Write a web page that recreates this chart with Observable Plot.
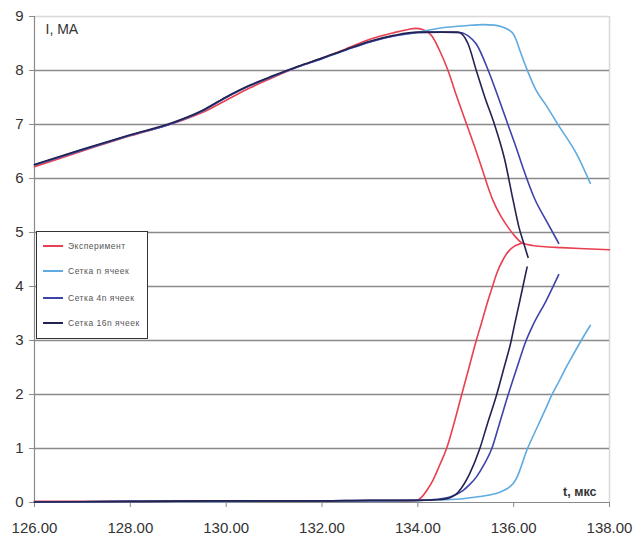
<!DOCTYPE html>
<html><head><meta charset="utf-8">
<script src="https://cdn.jsdelivr.net/npm/d3@7"></script>
<script src="https://cdn.jsdelivr.net/npm/@observablehq/plot@0.6"></script>
<style>
body{margin:0;background:#fff;}
#wrap{position:relative;width:643px;height:535px;font-family:"Liberation Sans",Arial,sans-serif;}
#legend{position:absolute;left:36px;top:231px;width:112px;height:108px;border:1px solid #333;background:#fff;box-sizing:border-box;}
.li{position:absolute;left:6px;height:12px;display:flex;align-items:center;font-size:8.5px;color:#555;letter-spacing:0.5px;white-space:nowrap;}
.li span.sw{display:inline-block;width:20px;height:1.6px;margin-right:5px;}
</style>
</head><body>
<div id="wrap"></div>
<script>
// Series names and colours
const seriesNames = ["Эксперимент", "Сетка n ячеек", "Сетка 4n ячеек", "Сетка 16n ячеек"];
const seriesColors = ["#e8404f", "#5faae0", "#3c44aa", "#22234f"];
const xTicks = [126, 128, 130, 132, 134, 136, 138];
const yTicks = [0, 1, 2, 3, 4, 5, 6, 7, 8, 9];

// Эксперимент — falling (upper) branch
const expUpT = [126, 127, 128, 129, 129.5, 130, 130.5, 131, 131.5, 132, 132.5, 133, 133.5, 133.8, 133.95, 134.1, 134.3, 134.45, 134.63, 134.8, 135.02, 135.2, 135.33, 135.45, 135.57, 135.72, 135.88, 136.0, 136.1, 136.19, 136.4, 136.6, 137.0, 137.5, 138.0];
const expUpI = [6.22, 6.51, 6.79, 7.05, 7.22, 7.45, 7.68, 7.88, 8.07, 8.23, 8.40, 8.58, 8.70, 8.76, 8.78, 8.76, 8.63, 8.38, 8.0, 7.55, 7.0, 6.55, 6.21, 5.88, 5.59, 5.32, 5.10, 4.96, 4.86, 4.80, 4.76, 4.74, 4.72, 4.70, 4.68];
// Эксперимент — rising (lower) branch
const expLoT = [126, 128, 130, 132, 133, 133.6, 133.97, 134.08, 134.2, 134.32, 134.45, 134.6, 134.75, 134.91, 135.05, 135.22, 135.33, 135.45, 135.55, 135.65, 135.78, 135.9, 136.0, 136.1, 136.19];
const expLoI = [0.02, 0.02, 0.03, 0.03, 0.03, 0.03, 0.04, 0.10, 0.24, 0.42, 0.68, 1.0, 1.45, 1.98, 2.44, 3.0, 3.33, 3.70, 3.98, 4.25, 4.50, 4.66, 4.74, 4.78, 4.80];

// Сетка n ячеек
const nUpT = [126, 127, 128, 128.9, 129.5, 130, 130.5, 131, 131.5, 132, 132.5, 133, 133.5, 133.9, 134.18, 134.6, 135.0, 135.36, 135.6, 135.78, 135.9, 135.99, 136.06, 136.13, 136.3, 136.47, 136.68, 136.96, 137.31, 137.6];
const nUpI = [6.25, 6.53, 6.80, 7.03, 7.25, 7.50, 7.72, 7.90, 8.07, 8.22, 8.38, 8.53, 8.64, 8.69, 8.74, 8.80, 8.83, 8.85, 8.84, 8.80, 8.75, 8.68, 8.55, 8.37, 7.97, 7.63, 7.35, 6.95, 6.46, 5.91];
const nLoT = [126, 128, 130, 132, 133, 134, 134.5, 134.94, 135.29, 135.5, 135.71, 135.85, 135.99, 136.06, 136.13, 136.2, 136.28, 136.38, 136.51, 136.65, 136.79, 136.95, 137.10, 137.25, 137.41, 137.6];
const nLoI = [0.01, 0.02, 0.02, 0.03, 0.03, 0.04, 0.05, 0.07, 0.11, 0.14, 0.19, 0.25, 0.35, 0.45, 0.60, 0.78, 0.98, 1.18, 1.43, 1.70, 1.98, 2.25, 2.51, 2.75, 3.0, 3.28];

// Сетка 4n ячеек
const n4UpT = [126, 127, 128, 128.9, 129.5, 130, 130.5, 131, 131.5, 132, 132.5, 133, 133.5, 134, 134.5, 134.91, 135.05, 135.22, 135.47, 135.68, 135.88, 136.05, 136.19, 136.44, 136.68, 136.94];
const n4UpI = [6.25, 6.53, 6.80, 7.03, 7.25, 7.50, 7.72, 7.90, 8.07, 8.22, 8.38, 8.53, 8.64, 8.70, 8.71, 8.70, 8.64, 8.49, 8.0, 7.5, 7.0, 6.58, 6.21, 5.62, 5.22, 4.80];
const n4LoT = [126, 128, 130, 132, 133, 134, 134.4, 134.67, 134.94, 135.08, 135.22, 135.38, 135.54, 135.7, 135.88, 136.07, 136.26, 136.4, 136.68, 136.94];
const n4LoI = [0.01, 0.02, 0.03, 0.03, 0.04, 0.04, 0.06, 0.10, 0.22, 0.33, 0.47, 0.70, 0.99, 1.45, 1.98, 2.5, 3.0, 3.28, 3.74, 4.22];

// Сетка 16n ячеек
const n16UpT = [126, 127, 128, 128.9, 129.5, 130, 130.5, 131, 131.5, 132, 132.5, 133, 133.5, 134, 134.5, 134.84, 135.05, 135.22, 135.4, 135.6, 135.81, 135.99, 136.11, 136.21, 136.3];
const n16UpI = [6.26, 6.54, 6.81, 7.04, 7.26, 7.51, 7.73, 7.91, 8.08, 8.23, 8.39, 8.54, 8.65, 8.71, 8.71, 8.71, 8.49, 8.0, 7.5, 7.0, 6.36, 5.59, 5.10, 4.80, 4.54];
const n16LoT = [126, 128, 130, 132, 133, 134, 134.4, 134.6, 134.84, 135.08, 135.29, 135.45, 135.64, 135.8, 135.95, 136.02, 136.13, 136.28];
const n16LoI = [0.01, 0.02, 0.03, 0.03, 0.04, 0.04, 0.05, 0.07, 0.19, 0.53, 0.99, 1.45, 1.98, 2.5, 3.0, 3.3, 3.74, 4.36];

const branches = [
  [seriesNames[0], "up", expUpT, expUpI], [seriesNames[0], "lo", expLoT, expLoI],
  [seriesNames[1], "up", nUpT, nUpI], [seriesNames[1], "lo", nLoT, nLoI],
  [seriesNames[2], "up", n4UpT, n4UpI], [seriesNames[2], "lo", n4LoT, n4LoI],
  [seriesNames[3], "up", n16UpT, n16UpI], [seriesNames[3], "lo", n16LoT, n16LoI]
];
const data = branches.flatMap(([s, b, ts, is]) => ts.map((t, i) => ({series: s, key: s + b, t, I: is[i]})));

const chart = Plot.plot({
  width: 643, height: 535,
  marginLeft: 34, marginRight: 34, marginTop: 16, marginBottom: 33,
  style: {fontFamily: '"Liberation Sans", Arial, sans-serif', fontSize: "15px", color: "#333", background: "#fff"},
  x: {domain: [126, 138]},
  y: {domain: [0, 9]},
  color: {domain: seriesNames, range: seriesColors},
  marks: [
    Plot.ruleY([9], {stroke: "#d8d8d8", strokeWidth: 1.5}),
    Plot.ruleX([138], {stroke: "#d8d8d8", strokeWidth: 1.5}),
    Plot.ruleY(yTicks.filter(d => d > 0 && d < 9), {stroke: "#8a8a8a", strokeWidth: 1.5}),
    Plot.ruleX([126], {stroke: "#8a8a8a", strokeWidth: 1.2}),
    Plot.ruleY([0], {stroke: "#8a8a8a", strokeWidth: 1.2}),
    Plot.axisY({ticks: yTicks, tickSize: 5, tickPadding: 6, label: null, stroke: "#8a8a8a", fill: "#333", fontSize: 15}),
    Plot.axisX({ticks: xTicks, tickSize: 5, tickPadding: 15, label: null, stroke: "#8a8a8a", fill: "#333", fontSize: 15, tickFormat: d => d.toFixed(2)}),
    Plot.line(data, {x: "t", y: "I", z: "key", stroke: "series", strokeWidth: 1.6, curve: "monotone-x"}),
    Plot.text(["I, MA"], {frameAnchor: "top-left", dx: 11, dy: 8, textAnchor: "start", fill: "#333", fontSize: 14}),
    Plot.text(["t, мкс"], {frameAnchor: "bottom-right", dx: -13, dy: -7, textAnchor: "end", fill: "#333", fontSize: 12.5, fontWeight: "bold", style: "letter-spacing:1px"})
  ]
});
const wrap = document.getElementById("wrap");
wrap.appendChild(chart);

const legend = document.createElement("div");
legend.id = "legend";
const tops = [8, 33, 60, 85];
seriesNames.forEach((name, i) => {
  const item = document.createElement("div");
  item.className = "li";
  item.style.top = tops[i] + "px";
  const sw = document.createElement("span");
  sw.className = "sw";
  sw.style.background = seriesColors[i];
  item.appendChild(sw);
  item.appendChild(document.createTextNode(name));
  legend.appendChild(item);
});
wrap.appendChild(legend);
</script>
</body></html>
